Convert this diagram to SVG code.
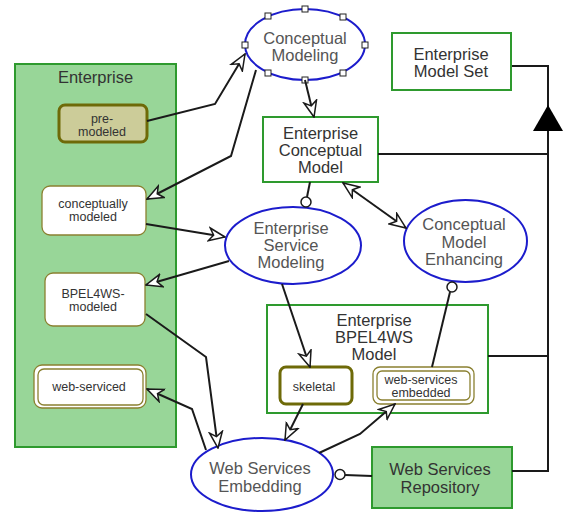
<svg xmlns="http://www.w3.org/2000/svg" width="563" height="513" viewBox="0 0 563 513">
<defs>
<style>
.t{font-family:"Liberation Sans",Arial,sans-serif;text-anchor:middle}
.big{font-size:16.5px;fill:#333}
.el{font-size:16.5px;fill:#555}
.sm{font-size:12.5px;fill:#333}
.gbox{fill:#fff;stroke:#2e9a2e;stroke-width:2}
.gfill{fill:#98d698;stroke:#2e9a2e;stroke-width:2}
.ell{fill:#fff;stroke:#1c1ccc;stroke-width:2}
.thin{fill:#fff;stroke:#8a8030;stroke-width:1.3}
.thick{stroke:#6e6a08;stroke-width:3}
.c{fill:none;stroke:#1a1a1a;stroke-width:2}
.h{fill:#fff;stroke:#222;stroke-width:1}
.lol{fill:#fff;stroke:#1a1a1a;stroke-width:1.5}
</style>
<marker id="a" markerWidth="18" markerHeight="16" viewBox="-1 -8 18 16" refX="16" refY="0" orient="auto-start-reverse" markerUnits="userSpaceOnUse">
<path d="M0,-6.5 L16,0 L0,6.5 L4.5,0 Z" fill="#fff" stroke="#1a1a1a" stroke-width="1.5" stroke-linejoin="miter"/>
</marker>
</defs>

<g id="enterprise">
<rect x="15" y="64" width="161" height="383" class="gfill"/>
<text x="95.5" y="83" class="t big" fill="#222">Enterprise</text>
</g>
<g id="pre-modeled">
<rect x="59" y="105" width="88" height="37" rx="6" fill="#cccc99" class="thick"/>
<text x="102" y="123" class="t sm">pre-</text>
<text x="102" y="136" class="t sm">modeled</text>
</g>
<g id="conceptually-modeled">
<rect x="42" y="186" width="104" height="49" rx="8" class="thin"/>
<text x="93" y="208" class="t sm">conceptually</text>
<text x="93" y="221" class="t sm">modeled</text>
</g>
<g id="bpel4ws-modeled">
<rect x="45" y="273" width="100" height="53" rx="8" class="thin"/>
<text x="93" y="298" class="t sm">BPEL4WS-</text>
<text x="93" y="311" class="t sm">modeled</text>
</g>
<g id="web-serviced">
<rect x="34" y="365" width="112" height="43" rx="8" class="thin"/>
<rect x="38" y="369" width="105" height="36" rx="6" class="thin"/>
<text x="89" y="391" class="t sm">web-serviced</text>
</g>

<g id="conceptual-modeling">
<ellipse cx="305" cy="44.5" rx="60" ry="35.5" class="ell"/>
<text x="305" y="44" class="t el">Conceptual</text>
<text x="305" y="61" class="t el">Modeling</text>
<rect x="302" y="6" width="6" height="6" class="h"/>
<rect x="265" y="13" width="6" height="6" class="h"/>
<rect x="340" y="14" width="6" height="6" class="h"/>
<rect x="242" y="42" width="6" height="6" class="h"/>
<rect x="362" y="42" width="6" height="6" class="h"/>
<rect x="265" y="70" width="6" height="6" class="h"/>
<rect x="340" y="70" width="6" height="6" class="h"/>
<rect x="302" y="77" width="6" height="6" class="h"/>
</g>
<g id="enterprise-model-set">
<rect x="392" y="33" width="119" height="57" class="gbox"/>
<text x="451" y="60" class="t big">Enterprise</text>
<text x="451" y="77" class="t big">Model Set</text>
</g>
<g id="enterprise-conceptual-model">
<rect x="263" y="117" width="115" height="65" class="gbox"/>
<text x="320.5" y="139" class="t big">Enterprise</text>
<text x="320.5" y="156" class="t big">Conceptual</text>
<text x="320.5" y="173" class="t big">Model</text>
</g>
<g id="enterprise-service-modeling">
<ellipse cx="293" cy="245.5" rx="68" ry="38.5" class="ell"/>
<text x="291" y="234" class="t el">Enterprise</text>
<text x="291" y="251" class="t el">Service</text>
<text x="291" y="268" class="t el">Modeling</text>
</g>
<g id="conceptual-model-enhancing">
<ellipse cx="465.5" cy="241" rx="61.5" ry="41" class="ell"/>
<text x="464" y="230" class="t el">Conceptual</text>
<text x="464" y="247.5" class="t el">Model</text>
<text x="464" y="265" class="t el">Enhancing</text>
</g>
<g id="enterprise-bpel4ws-model">
<rect x="267" y="305" width="221" height="108" class="gbox"/>
<text x="374" y="326" class="t big">Enterprise</text>
<text x="374" y="343" class="t big">BPEL4WS</text>
<text x="374" y="360" class="t big">Model</text>
</g>
<g id="skeletal">
<rect x="280" y="367" width="72" height="37" rx="6" fill="#fff" class="thick"/>
<text x="314" y="391" class="t sm">skeletal</text>
</g>
<g id="web-services-embedded">
<rect x="373" y="367" width="101" height="37" rx="7" class="thin"/>
<rect x="377" y="371" width="93" height="29" rx="5" class="thin"/>
<text x="421" y="384" class="t sm">web-services</text>
<text x="421" y="397" class="t sm">embedded</text>
</g>
<g id="web-services-embedding">
<ellipse cx="262" cy="474.5" rx="71" ry="36.5" class="ell"/>
<text x="260" y="474" class="t el">Web Services</text>
<text x="260" y="492" class="t el">Embedding</text>
</g>
<g id="web-services-repository">
<rect x="372" y="447" width="140" height="61" class="gfill"/>
<text x="440" y="475" class="t big">Web Services</text>
<text x="440" y="493" class="t big">Repository</text>
</g>

<g id="connectors">
<path d="M147,121 L215,104 L245,54" class="c" marker-end="url(#a)"/>
<path d="M256,70 L231,156 L147,199" class="c" marker-end="url(#a)"/>
<path d="M305,80 L314,117" class="c" marker-end="url(#a)"/>
<path d="M146,224 L225,237" class="c" marker-end="url(#a)"/>
<path d="M229,261 L146,285" class="c" marker-end="url(#a)"/>
<path d="M146,314 L206,357 L218,448" class="c" marker-end="url(#a)"/>
<path d="M206,450 L192,409 L147,389" class="c" marker-end="url(#a)"/>
<path d="M282,284 L310,367" class="c" marker-end="url(#a)"/>
<path d="M303,404 L285,440" class="c" marker-end="url(#a)"/>
<path d="M319,453 L360,434 L395,404" class="c" marker-end="url(#a)"/>
<path d="M343,183 L406,228" class="c" marker-start="url(#a)" marker-end="url(#a)"/>
<path d="M310,182 L307,197" class="c"/>
<circle cx="306" cy="202" r="5" class="lol"/>
<path d="M450,292 L432,367" class="c"/>
<circle cx="452" cy="287" r="5" class="lol"/>
<path d="M372,476 L345,475" class="c"/>
<circle cx="340" cy="474.5" r="5" class="lol"/>
<path d="M512,66 L548,66 L548,471 L512,471 M378,154 L548,154 M488,356 L548,356" class="c"/>
<path d="M548,105 L563,131 L533,131 Z" fill="#000"/>
</g>
</svg>
